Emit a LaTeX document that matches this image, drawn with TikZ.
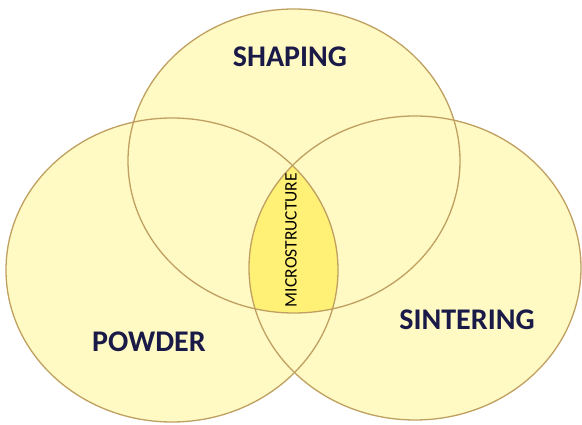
\documentclass[tikz,border=0pt]{standalone}
\usepackage{fontspec}
\setmainfont{Carlito}
\usetikzlibrary{positioning}
\definecolor{pale}{HTML}{FFF9C4}
\definecolor{core}{HTML}{FFF175}
\definecolor{rim}{HTML}{BFA060}
\definecolor{ink}{HTML}{1A1A48}

\begin{document}
\begin{tikzpicture}[x=1pt,y=-1pt]
  \def\rx{166} % horizontal radius
  \def\ry{152} % vertical radius
  \useasboundingbox (0,0) rectangle (582,425);
  \coordinate (top) at (294,161);
  \coordinate (left) at (172,270);
  \coordinate (right) at (415,268);
  % the three sets
  \foreach \c in {top,left,right} {
    \fill[pale] (\c) ellipse [x radius=\rx, y radius=\ry];
  }
  % common part of all three
  \begin{scope}
    \clip (top) ellipse [x radius=\rx, y radius=\ry];
    \clip (left) ellipse [x radius=\rx, y radius=\ry];
    \fill[core] (right) ellipse [x radius=\rx, y radius=\ry];
  \end{scope}
  \foreach \c in {top,left,right} {
    \draw[rim, line width=1.3pt] (\c) ellipse [x radius=\rx, y radius=\ry];
  }
  % labels
  \tikzset{setname/.style={ink, font=\bfseries\fontsize{30}{30}\selectfont}}
  \node[setname] (shaping) at (290,57) {SHAPING};
  \node[setname] (powder) at (149,342) {POWDER};
  \node[setname] (sintering) at (467,320) {SINTERING};
  \node[black, rotate=90, font=\fontsize{17.5}{17.5}\selectfont] (micro) at (291,240) {MICROSTRUCTURE};
\end{tikzpicture}
\end{document}
